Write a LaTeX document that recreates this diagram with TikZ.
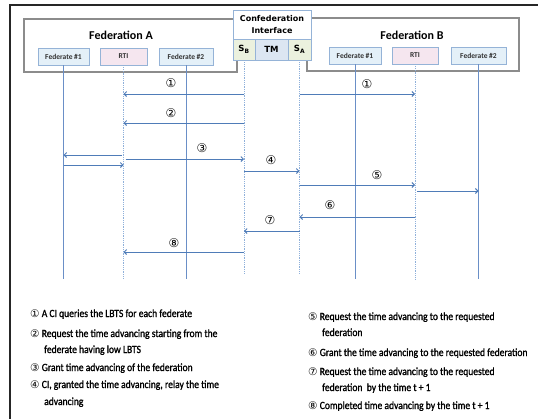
\documentclass[tikz,border=0pt]{standalone}
\usepackage{fontspec}
\setmainfont{Carlito}
\newfontfamily\circfont{DejaVu Sans}
\newfontfamily\cifont{DejaVu Sans}
\newfontfamily\legfont[FakeStretch=0.87,FakeBold=1.3]{Carlito}
\usetikzlibrary{arrows.meta}
\definecolor{fedline}{HTML}{8C8C8C}
\definecolor{nodeborder}{HTML}{95B3D7}
\definecolor{fedfill}{HTML}{E4F0F8}
\definecolor{rtifill}{HTML}{F5E6EF}
\definecolor{sfill}{HTML}{EBF1DE}
\definecolor{tmfill}{HTML}{DCE6F2}
\definecolor{life}{HTML}{6A8FC7}
\definecolor{lifedot}{HTML}{8FB0DA}
\definecolor{msgcol}{HTML}{4F7CB8}
\newcommand{\lnum}[1]{{\circfont\fontsize{10.5}{10}\selectfont #1}}
\tikzset{
  fedbox/.style={draw=fedline,line width=1.1pt},
  partbox/.style={draw=nodeborder,line width=0.8pt,fill=fedfill,minimum height=17pt,inner sep=0pt,font=\fontsize{7.5}{8}\selectfont\bfseries,text=black!80},
  rtibox/.style={partbox,fill=rtifill},
  cibox/.style={draw=nodeborder,line width=0.8pt,inner sep=0pt},
  solidlife/.style={draw=life,line width=0.8pt},
  dotlife/.style={draw=lifedot,line width=0.8pt,densely dotted},
  msg/.style={draw=msgcol,line width=0.9pt,-{Straight Barb[length=2.5pt,width=5pt]}},
  num/.style={font=\circfont\fontsize{12}{12}\selectfont,inner sep=0pt},
  legend/.style={anchor=base west,inner sep=0pt,font=\legfont\fontsize{11}{12}\selectfont}
}
\begin{document}
\begin{tikzpicture}[x=1pt,y=-1pt]
\useasboundingbox (0,0) rectangle (538,418);
\clip (0,0) rectangle (538,418);
% outer frame
\draw[line width=1.2pt,black!85] (10,425) -- (10,5) -- (545,5);
% federation boxes
\draw[fedbox] (24,19) rectangle (237,72);
\draw[fedbox] (307,18) rectangle (519,71);
\node[font=\fontsize{12}{14}\selectfont\bfseries] (fedA) at (121,35) {Federation A};
\node[font=\fontsize{12}{14}\selectfont\bfseries] (fedB) at (412,35) {Federation B};
% confederation interface
\node[cibox,fill=white,minimum width=78pt,minimum height=29pt,align=center,font=\cifont\fontsize{8}{11.5}\selectfont\bfseries] (ci) at (272,24.5) {Confederation\\Interface};
\node[cibox,fill=sfill,minimum width=22pt,minimum height=21pt,font=\cifont\fontsize{8.5}{10}\selectfont\bfseries] (sb) at (244,49.5) {S\textsubscript{B}};
\node[cibox,fill=tmfill,minimum width=33pt,minimum height=21pt,font=\cifont\fontsize{8.5}{10}\selectfont\bfseries] (tm) at (271.5,49.5) {TM};
\node[cibox,fill=sfill,minimum width=23pt,minimum height=21pt,font=\cifont\fontsize{8.5}{10}\selectfont\bfseries] (sa) at (299.5,49.5) {S\textsubscript{A}};
% federate nodes
\node[partbox,minimum width=51pt] (f1a) at (63.5,56.5) {Federate \#1};
\node[rtibox,minimum width=47pt] (rtia) at (123.5,56.5) {RTI};
\node[partbox,minimum width=54pt] (f2a) at (186,56.5) {Federate \#2};
\node[partbox,minimum width=52pt] (f1b) at (355,55.5) {Federate \#1};
\node[rtibox,minimum width=46pt] (rtib) at (415,55.5) {RTI};
\node[partbox,minimum width=55pt] (f2b) at (478.5,55.5) {Federate \#2};
% lifeline ends
\coordinate (f1aE) at (63.5,279);
\coordinate (rtiaE) at (123.5,279);
\coordinate (f2aE) at (186,279);
\coordinate (sbE) at (244,273);
\coordinate (saE) at (299.5,273);
\coordinate (f1bE) at (355,279);
\coordinate (rtibE) at (415,279);
\coordinate (f2bE) at (478.5,279);
\draw[solidlife] (f1a.south) -- (f1aE);
\draw[dotlife] (rtia.south) -- (rtiaE);
\draw[solidlife] (f2a.south) -- (f2aE);
\draw[dotlife] (sb.south) -- (sbE);
\draw[dotlife] (sa.south) -- (saE);
\draw[solidlife] (f1b.south) -- (f1bE);
\draw[dotlife] (rtib.south) -- (rtibE);
\draw[solidlife] (f2b.south) -- (f2bE);
% messages
\draw[msg] (sb |- 0,94) -- (rtia |- 0,94);
\draw[msg] (sa |- 0,94) -- (rtib |- 0,94);
\draw[msg] (sb |- 0,123) -- (rtia |- 0,123);
\draw[msg] ([xshift=-2pt]rtia |- 0,155) -- (f1a |- 0,155);
\draw[msg] (f1a |- 0,165) -- (rtia |- 0,165);
\draw[msg] ([xshift=2pt]rtia |- 0,159) -- (sb |- 0,159);
\draw[msg] (sb |- 0,171) -- (sa |- 0,171);
\draw[msg] (sa |- 0,185) -- (rtib |- 0,185);
\draw[msg] ([xshift=2pt]rtib |- 0,191) -- (f2b |- 0,191);
\draw[msg] (rtib |- 0,217) -- (sa |- 0,217);
\draw[msg] (sa |- 0,231) -- (sb |- 0,231);
\draw[msg] (sb |- 0,252) -- (rtia |- 0,252);
% labels
\node[num] (n1a) at (171,83) {①};
\node[num] (n1b) at (367,84) {①};
\node[num] (n2) at (171,113) {②};
\node[num] (n3) at (202,148) {③};
\node[num] (n4) at (271,160) {④};
\node[num] (n5) at (377,175) {⑤};
\node[num] (n6) at (330,205) {⑥};
\node[num] (n7) at (270,220) {⑦};
\node[num] (n8) at (174,243) {⑧};
% legend
\node[legend] (l1) at (30,317) {\lnum{①} A CI queries the LBTS for each federate};
\node[legend] (l2) at (30,337) {\lnum{②} Request the time advancing starting from the};
\node[legend] (l2b) at (44,353) {federate having low LBTS};
\node[legend] (l3) at (30,371) {\lnum{③} Grant time advancing of the federation};
\node[legend] (l4) at (30,388) {\lnum{④} CI, granted the time advancing, relay the time};
\node[legend] (l4b) at (44,405) {advancing};
\node[legend] (l5) at (308,320) {\lnum{⑤} Request the time advancing to the requested};
\node[legend] (l5b) at (322,336) {federation};
\node[legend] (l6) at (308,356) {\lnum{⑥} Grant the time advancing to the requested federation};
\node[legend] (l7) at (308,375) {\lnum{⑦} Request the time advancing to the requested};
\node[legend] (l7b) at (322,391) {federation \ by the time t + 1};
\node[legend] (l8) at (308,409) {\lnum{⑧} Completed time advancing by the time t + 1};
\end{tikzpicture}
\end{document}
